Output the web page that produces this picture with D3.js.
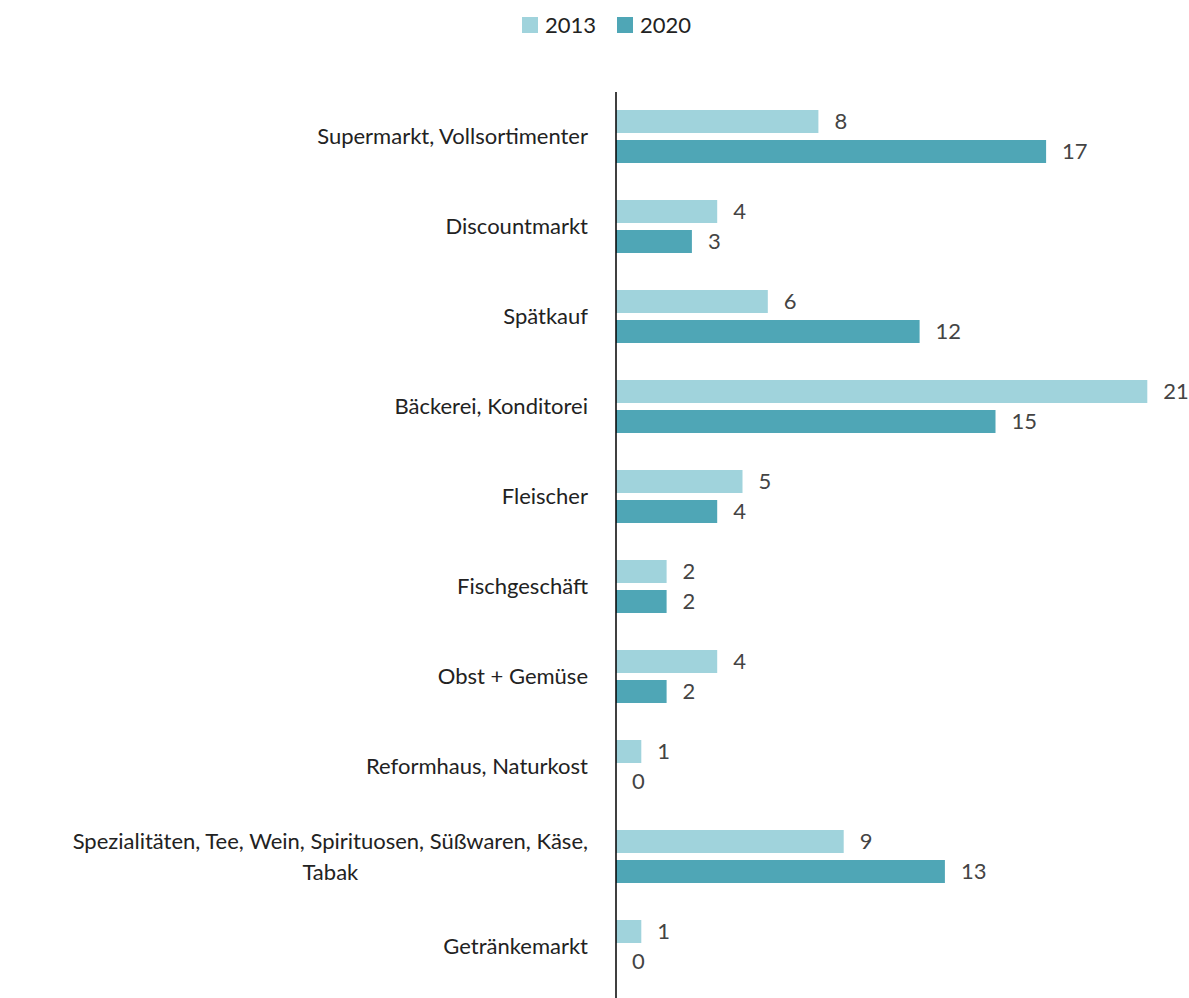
<!DOCTYPE html>
<html>
<head>
<meta charset="utf-8">
<script src="https://cdn.jsdelivr.net/npm/d3@7"></script>
<style>
  body { margin: 0; background: #fff; }
  svg { display: block; font-family: Lato, "Open Sans", sans-serif; }
</style>
</head>
<body>
<svg id="chart" width="1189" height="998"></svg>
<script>
// categories and values (percent)
const categories = [
  "Supermarkt, Vollsortimenter",
  "Discountmarkt",
  "Spätkauf",
  "Bäckerei, Konditorei",
  "Fleischer",
  "Fischgeschäft",
  "Obst + Gemüse",
  "Reformhaus, Naturkost",
  "Spezialitäten, Tee, Wein, Spirituosen, Süßwaren, Käse, Tabak",
  "Getränkemarkt"
]
const series = ["2013", "2020"]
const values2013 = [8, 4, 6, 21, 5, 2, 4, 1, 9, 1]
const values2020 = [17, 3, 12, 15, 4, 2, 2, 0, 13, 0]
const colors = ["#a0d3dc", "#4fa6b6"]

const width = 1189, height = 998
const axisX = 616

const svg = d3.select("#chart")

const x = d3.scaleLinear().domain([0, 21]).range([axisX, axisX + 21 * 25.3])
const y = d3.scaleBand().domain(categories).range([91.5, 991.5])
const ySub = d3.scaleBand().domain(series).range([0, 53]).paddingInner(7 / 30)

const rows = categories.map((c, i) => ({ cat: c, vals: [values2013[i], values2020[i]] }))

// legend
const legend = svg.append("g").attr("font-size", 22).attr("fill", "#222")
const legendX = [522, 617]
series.forEach((s, i) => {
    legend.append("rect")
        .attr("x", legendX[i]).attr("y", 17)
        .attr("width", 16).attr("height", 16)
        .attr("fill", colors[i])
    legend.append("text")
        .attr("x", legendX[i] + 23).attr("y", 25)
        .attr("dy", "0.35em")
        .text(s)
})

// bars
const group = svg.append("g")
    .selectAll("g")
    .data(rows)
    .join("g")
    .attr("transform", d => `translate(0,${y(d.cat) + y.bandwidth() / 2 - 26.5})`)

group.selectAll("rect")
    .data(d => d.vals.map((v, i) => ({ v, s: series[i], i })))
    .join("rect")
    .attr("x", x(0))
    .attr("y", d => ySub(d.s))
    .attr("width", d => x(d.v) - x(0))
    .attr("height", ySub.bandwidth())
    .attr("fill", d => colors[d.i])

// value labels
group.selectAll("text")
    .data(d => d.vals.map((v, i) => ({ v, s: series[i] })))
    .join("text")
    .attr("x", d => x(d.v) + 16)
    .attr("y", d => ySub(d.s) + ySub.bandwidth() / 2)
    .attr("dy", "0.35em")
    .attr("font-size", 22)
    .attr("fill", "#444")
    .text(d => d.v)

// category labels, wrapped when too wide
const labelRight = 588, maxW = 540, lineH = 31
const labels = svg.append("g").attr("font-size", 22).attr("fill", "#222")

categories.forEach(c => {
    const cy = y(c) + y.bandwidth() / 2
    const t = labels.append("text").attr("text-anchor", "end")
    const words = c.split(" ")
    let lines = [], line = []
    const probe = t.append("tspan")
    words.forEach(w => {
        line.push(w)
        probe.text(line.join(" "))
        if (probe.node().getComputedTextLength() > maxW && line.length > 1) {
            line.pop()
            lines.push(line.join(" "))
            line = [w]
        }
    })
    lines.push(line.join(" "))
    probe.remove()

    if (lines.length === 1) {
        t.attr("x", labelRight).attr("y", cy).attr("dy", "0.35em").text(c)
    } else {
        // block right aligned, lines centred inside it
        const tmp = labels.append("text").text(lines[0])
        const blockW = tmp.node().getComputedTextLength()
        tmp.remove()
        const mid = labelRight - blockW / 2
        t.attr("text-anchor", "middle")
        lines.forEach((l, k) => {
            t.append("tspan")
                .attr("x", mid)
                .attr("y", cy + (k - (lines.length - 1) / 2) * lineH)
                .attr("dy", "0.35em")
                .text(l)
        })
    }
})

// vertical axis line
svg.append("line")
    .attr("x1", axisX).attr("x2", axisX)
    .attr("y1", 92).attr("y2", height)
    .attr("stroke", "#000")
    .attr("stroke-width", 1.5)
</script>
</body>
</html>
